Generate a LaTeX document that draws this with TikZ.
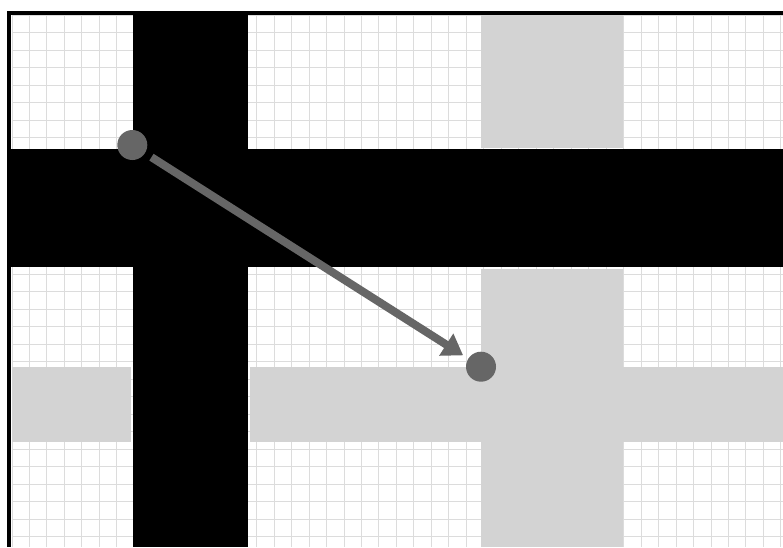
\documentclass[tikz,border=0pt]{standalone}
\usetikzlibrary{arrows.meta}
\definecolor{gridgray}{RGB}{220,220,220}
\definecolor{blockgray}{RGB}{211,211,211}
\definecolor{markgray}{RGB}{102,102,102}
\begin{document}
\begin{tikzpicture}[x=1pt,y=-1pt,
  gridline/.style={draw=gridgray,line width=1pt},
  road/.style={fill=black},
  block/.style={fill=blockgray},
  dot/.style={circle,fill=markgray,minimum size=30pt,inner sep=0pt},
  move/.style={draw=markgray,line width=8pt,-{Triangle[length=20pt,width=25pt]},shorten <=7.5pt,shorten >=6pt}]
\useasboundingbox (0,0) rectangle (783,547);
\fill[white] (0,0) rectangle (783,547);
% grid
\foreach \k in {0,...,44} \draw[gridline] ({12+17.475*\k},15) -- ({12+17.475*\k},547);
\foreach \k in {0,...,7} \draw[gridline] (12,{15+17.5*\k}) -- (783,{15+17.5*\k});
\foreach \k in {0,...,15} \draw[gridline] (12,{274.3+17.5*\k}) -- (783,{274.3+17.5*\k});
% grey blocks
\fill[block] (481,15) rectangle (623,148);
\fill[block] (481,269) rectangle (623,547);
\fill[block] (12,367) rectangle (131,441.5);
\fill[block] (250,367) rectangle (783,441.5);
% black roads
\fill[road] (133,15) rectangle (248,547);
\fill[road] (11,149) rectangle (783,267);
% borders
\fill[road] (7,10.5) rectangle (783,15);
\fill[road] (7,10.5) rectangle (11,547);
% markers and move arrow
\node[dot] (c1) at (132.3,145) {};
\node[dot] (c2) at (481,366.7) {};
\draw[move] (c1) -- (c2);
\end{tikzpicture}
\end{document}
